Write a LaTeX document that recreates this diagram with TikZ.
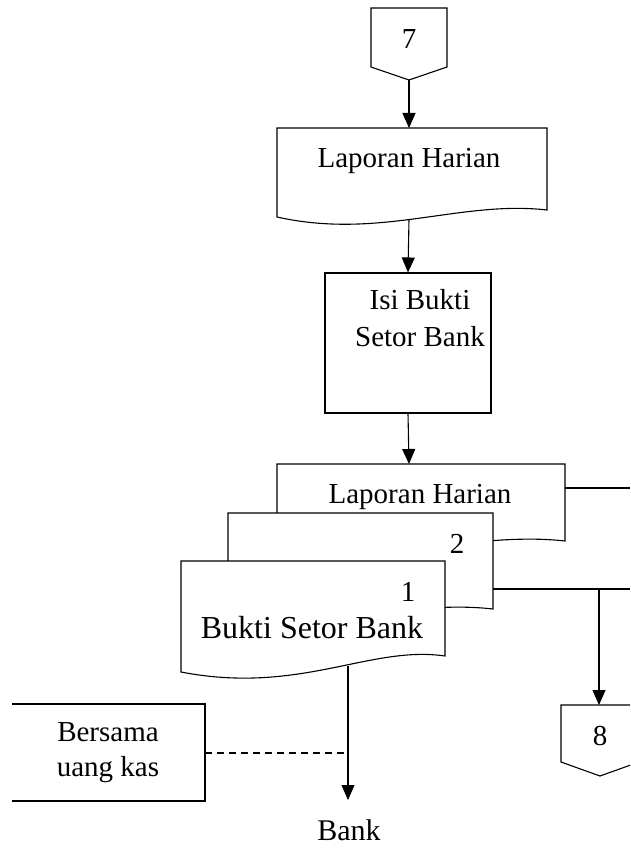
\documentclass[tikz,border=0pt]{standalone}
\usepackage{fontspec}
\setmainfont{Liberation Serif}
\usetikzlibrary{arrows.meta}
\begin{document}
\begin{tikzpicture}[x=1pt,y=-1pt,line width=1.1pt,
        txt/.style={font=\fontsize{29}{34}\selectfont,anchor=base,inner sep=0pt},
        arr/.style={-{Triangle[length=15pt,width=13pt]}},
        paper/.style={draw,fill=white}]
    \useasboundingbox (0,0) rectangle (630,848);
    \clip (0,0) rectangle (630,848);
    %% connector 7
    \draw (371,8) -- (447,8) -- (447,67) -- (409,80) -- (371,67) -- cycle;
    \node[txt] (n7) at (409,49) {7};
    \coordinate (tip7) at (409,80);
    %% laporan harian
    \draw[paper] (277,128) -- (547,128) -- (547,210)
        .. controls (460,200) and (380,240) .. (277,217) -- cycle;
    \node[txt] (lap) at (409,167) {Laporan Harian};
    \coordinate (lapTop) at (409,128);
    \coordinate (lapBot) at (409,219);
    %% isi bukti setor bank
    \node[draw,minimum width=166pt,minimum height=140pt,inner sep=0pt] (isi) at (408,343) {};
    \node[txt] (isi1) at (420,309) {Isi Bukti};
    \node[txt] (isi2) at (420,346) {Setor Bank};
    %% copies
    \draw[paper] (277,464) -- (565,464) -- (565,541)
        .. controls (475,531) and (390,565) .. (277,548) -- cycle;
    \draw[paper] (228,513) -- (493,513) -- (493,609)
        .. controls (405,599) and (320,633) .. (228,616) -- cycle;
    \draw[paper] (181,561) -- (445,561) -- (445,656)
        .. controls (370,645) and (300,695) .. (181,672) -- cycle;
    \node[txt] (lap3) at (420,503) {Laporan Harian};
    \node[txt] (c2) at (457,553) {2};
    \node[txt] (c1) at (408,601) {1};
    \node[txt,font=\fontsize{32}{36}\selectfont] (bsb) at (312,638) {Bukti Setor Bank};
    \coordinate (lap3Top) at (409,464);
    \coordinate (lap3R) at (565,488);
    \coordinate (c2R) at (493,589);
    \coordinate (c1Bot) at (348,666);
    %% arrows
    \draw[arr] (tip7) -- (lapTop);
    \draw[arr] (lapBot) -- (isi.north);
    \draw[arr] (isi.south) -- (lap3Top);
    %% to the right
    \coordinate (outA) at (630,488);
    \coordinate (outB) at (630,589);
    \coordinate (split) at (599,589);
    \coordinate (top8) at (599,705);
    \draw (lap3R) -- (outA);
    \draw (c2R) -- (outB);
    \draw[arr] (split) -- (top8);
    %% connector 8
    \draw (561,705) -- (639,705) -- (639,762) -- (600,776) -- (561,762) -- cycle;
    \node[txt] (n8) at (600,745) {8};
    %% bersama uang kas
    \draw (12,704) -- (205,704) -- (205,801) -- (12,801);
    \node[txt] (kas1) at (108,741) {Bersama};
    \node[txt] (kas2) at (108,776) {uang kas};
    \coordinate (kasR) at (205,753);
    \coordinate (join) at (348,753);
    \draw[dash pattern=on 7pt off 5pt] (kasR) -- (join);
    %% bank
    \coordinate (bankIn) at (348,800);
    \draw[arr] (c1Bot) -- (bankIn);
    \node[txt,font=\fontsize{30}{34}\selectfont] (bank) at (349,840) {Bank};
\end{tikzpicture}
\end{document}
